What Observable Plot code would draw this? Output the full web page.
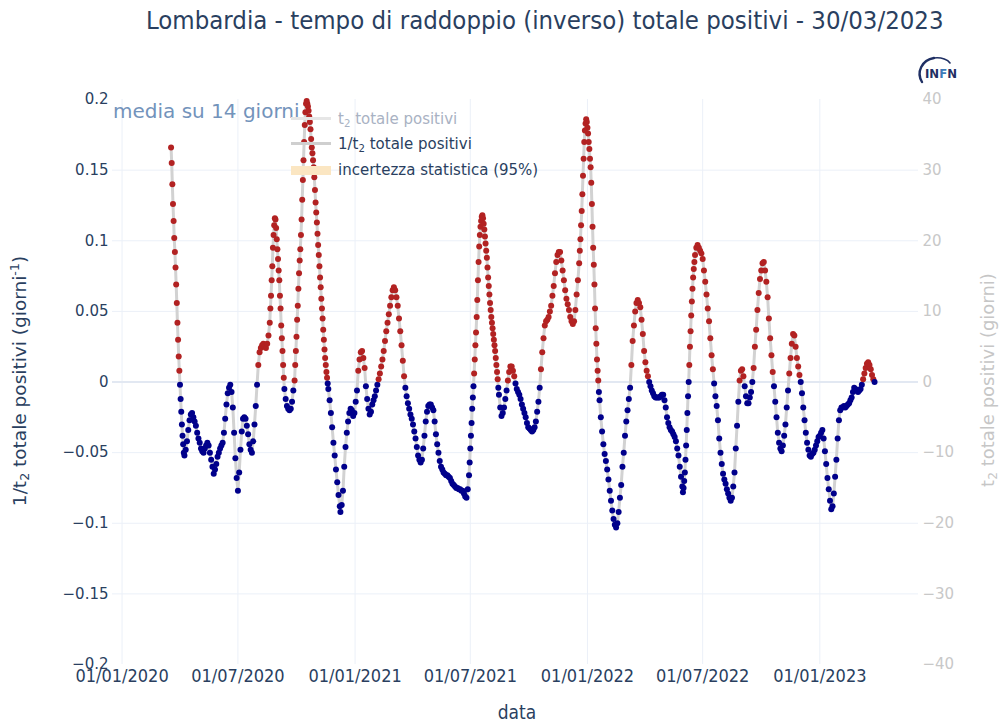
<!DOCTYPE html>
<html><head><meta charset="utf-8">
<script src="https://cdn.jsdelivr.net/npm/d3@7"></script>
<script src="https://cdn.jsdelivr.net/npm/@observablehq/plot@0.6"></script>
<style>
body{margin:0;background:#fff;}
#wrap{position:relative;width:1000px;height:726px;overflow:hidden;font-family:"DejaVu Sans",sans-serif;color:#2a3f5f;}
#chart{position:absolute;left:0;top:0;}
.ov{position:absolute;white-space:nowrap;}
.rot{transform:translate(-50%,-50%) rotate(-90deg);}
sub{font-size:68%;vertical-align:-0.25em;line-height:0;}
sup{font-size:68%;vertical-align:0.55em;line-height:0;}
.leg{font-size:15px;line-height:18px;}
</style></head><body>
<div id="wrap">
<div id="chart"></div>
<div class="ov" id="title" style="left:146px;top:5px;font-family:'DejaVu Sans Condensed','DejaVu Sans';font-stretch:condensed;font-size:25.5px;color:#2a3f5f;">Lombardia - tempo di raddoppio (inverso) totale positivi - 30/03/2023</div>
<div class="ov" style="left:113px;top:99px;font-size:20px;color:#7393bb;">media su 14 giorni</div>
<div class="ov" style="left:291px;top:117px;width:40px;height:3px;background:#e6e6e6;"></div>
<div class="ov leg" style="left:338px;top:110px;color:#a9b2c3;">t<sub>2</sub> totale positivi</div>
<div class="ov" style="left:291px;top:142px;width:40px;height:3px;background:#cfcfcf;"></div>
<div class="ov leg" style="left:338px;top:135px;color:#2a3f5f;">1/t<sub>2</sub> totale positivi</div>
<div class="ov" style="left:291px;top:166px;width:40px;height:9px;background:#fbe6c2;"></div>
<div class="ov leg" style="left:338px;top:161px;color:#2a3f5f;">incertezza statistica (95%)</div>
<div class="ov rot" style="left:19px;top:381px;font-size:18.5px;color:#2a3f5f;">1/t<sub>2</sub> totale positivi (giorni<sup>-1</sup>)</div>
<div class="ov rot" style="left:987px;top:380px;font-size:18px;color:#c6c6c6;">t<sub>2</sub> totale positivi (giorni)</div>
<div class="ov" style="left:517px;top:712px;transform:translate(-50%,-50%);font-family:'DejaVu Sans Condensed','DejaVu Sans';font-stretch:condensed;font-size:19px;color:#2a3f5f;">data</div>
<svg class="ov" style="left:914px;top:54px;" width="60" height="32" viewBox="0 0 60 32">
  <path d="M20 4 C 8 6, 2 18, 8 28" fill="none" stroke="#1f2f63" stroke-width="2.4" stroke-linecap="round"/>
  <path d="M20 4 C 28 3, 34 6, 36 9" fill="none" stroke="#1f2f63" stroke-width="1.6" stroke-linecap="round"/>
  <text x="11" y="24" font-family="DejaVu Sans Condensed, DejaVu Sans" font-size="13" font-weight="bold" fill="#1f2f63">I<tspan fill="#1f2f63">N</tspan><tspan fill="#3d7ab8">F</tspan><tspan fill="#1f2f63">N</tspan></text>
</svg>
</div>
<script>
// giorni dal 01/01/2020 e valori (1/t2, giorni^-1)
const dataInizio = "2020-01-01";
const giorni = [
  77,78,79,80,81,82,83,84,85,86,87,88,89,90,91,92,93,94,95,96,97,98,
  100,102,104,106,108,110,112,114,116,118,120,122,124,126,128,130,132,134,136,138,
  140,142,144,146,148,150,152,154,156,158,160,162,164,166,168,170,172,174,176,178,
  180,182,184,186,188,190,192,194,196,198,200,202,204,206,208,210,212,214,216,218,
  220,222,224,226,228,230,
  232,233,234,235,236,237,238,239,240,241,242,243,244,245,246,247,248,249,250,251,252,253,254,255,
  257,259,261,263,265,267,269,
  271,272,273,274,275,276,277,278,279,280,281,282,283,284,285,286,287,288,289,290,
  291,292,293,294,295,296,297,298,299,300,301,302,303,304,305,306,307,308,309,310,
  311,312,313,314,315,316,317,318,319,320,321,322,323,324,
  326,328,330,332,334,336,338,340,342,343,
  345,347,349,351,353,355,357,359,361,363,365,367,369,371,373,375,377,379,381,383,
  385,387,389,391,393,395,397,399,401,403,405,407,409,411,413,415,417,419,421,423,
  425,427,429,431,433,435,437,439,441,443,445,447,449,451,453,455,457,459,461,463,
  465,467,469,471,473,475,477,479,481,483,485,487,489,491,493,495,497,499,501,503,
  505,507,509,511,513,515,517,519,521,523,525,527,529,531,533,535,537,539,541,543,
  545,546,547,548,549,550,551,552,553,554,555,556,557,558,559,560,561,562,563,564,
  565,566,567,568,569,570,571,572,573,574,575,576,577,578,579,580,581,582,583,584,
  585,586,587,588,589,590,591,592,
  594,596,598,600,602,604,606,608,610,612,614,616,618,620,622,624,626,628,630,632,
  634,636,638,640,642,644,646,648,650,652,654,656,658,660,662,664,666,668,670,672,
  674,676,678,680,682,684,686,688,690,692,694,696,698,700,702,704,706,708,710,712,
  714,716,
  718,719,720,721,722,723,724,725,726,727,728,729,730,731,732,733,734,735,736,737,
  738,739,740,741,742,743,744,745,746,747,748,749,750,
  752,754,756,758,760,762,764,766,768,770,772,774,776,778,780,782,784,786,788,790,
  792,794,796,798,800,802,804,806,808,810,812,814,816,818,820,822,824,826,828,830,
  832,834,836,838,840,842,844,846,848,850,852,854,856,858,860,862,864,866,868,870,
  872,874,876,878,880,
  881,882,883,884,885,886,887,888,889,890,891,892,893,894,895,896,897,898,899,900,
  902,904,906,908,910,912,914,916,918,920,922,924,926,928,930,932,934,936,938,940,
  942,944,946,948,950,952,954,956,958,960,962,964,966,968,970,972,974,976,978,980,
  982,984,986,988,990,992,994,996,998,1000,1002,1004,1006,1008,1010,1012,1014,1016,1018,1020,
  1022,1024,1026,1028,1030,1032,1034,1036,1038,1040,1042,1044,1046,1048,1050,1052,1054,1056,1058,1060,
  1062,1064,1066,1068,1070,1072,1074,1076,1078,1080,1082,1084,1086,1088,1090,1092,1094,1096,1098,1100,
  1102,1104,1106,1108,1110,1112,1114,1116,1118,1120,1122,1124,1126,1128,1130,1132,1134,1136,1138,1140,
  1142,1144,1146,1148,1150,1152,1154,1156,1158,1160,1162,1164,1166,1168,1170,1172,1174,1176,1178,1180,
  1182
];
const invT2 = [
  0.166,0.155,0.140,0.126,0.114,0.102,0.092,0.081,0.069,0.056,0.042,0.030,0.018,0.008,-0.002,-0.012,-0.021,-0.030,-0.038,-0.044,-0.050,-0.052,
  -0.048,-0.042,-0.034,-0.027,-0.023,-0.022,-0.025,-0.028,-0.031,-0.036,-0.040,-0.043,-0.047,-0.049,-0.050,-0.047,-0.045,-0.043,-0.045,-0.050,
  -0.055,-0.060,-0.065,-0.062,-0.058,-0.053,-0.050,-0.047,-0.045,-0.043,-0.036,-0.026,-0.016,-0.008,-0.004,-0.002,-0.007,-0.018,-0.036,-0.054,
  -0.068,-0.077,-0.064,-0.048,-0.035,-0.026,-0.025,-0.026,-0.031,-0.037,-0.044,-0.048,-0.050,-0.042,-0.030,-0.017,-0.002,0.012,0.021,0.024,
  0.026,0.027,0.025,0.024,0.027,0.033,
  0.042,0.052,0.061,0.072,0.082,0.095,0.104,0.111,0.116,0.115,0.109,0.101,0.094,0.087,0.079,0.072,0.061,0.052,0.040,0.031,0.022,0.012,0.003,-0.005,
  -0.012,-0.017,-0.019,-0.020,-0.019,-0.014,-0.006,
  0.001,0.012,0.022,0.032,0.044,0.054,0.066,0.077,0.086,0.094,0.104,0.115,0.129,0.143,0.157,0.170,0.182,0.191,0.197,0.199,
  0.197,0.195,0.192,0.188,0.184,0.179,0.172,0.166,0.162,0.157,0.152,0.145,0.136,0.127,0.120,0.113,0.105,0.097,0.090,0.082,
  0.074,0.067,0.059,0.052,0.045,0.037,0.030,0.023,0.017,0.012,0.007,0.003,-0.001,-0.005,
  -0.013,-0.022,-0.032,-0.043,-0.052,-0.062,-0.071,-0.080,-0.088,-0.092,
  -0.087,-0.077,-0.060,-0.046,-0.036,-0.028,-0.022,-0.019,-0.020,-0.024,-0.022,-0.014,-0.006,0.008,0.016,0.021,0.022,0.017,0.010,-0.003,
  -0.012,-0.019,-0.023,-0.021,-0.016,-0.013,-0.010,-0.006,-0.002,0.002,0.006,0.011,0.016,0.022,0.029,0.036,0.042,0.048,0.054,0.060,
  0.065,0.067,0.065,0.060,0.054,0.045,0.036,0.026,0.015,0.004,-0.004,-0.010,-0.015,-0.019,-0.023,-0.026,-0.030,-0.035,-0.040,-0.046,
  -0.052,-0.055,-0.057,-0.055,-0.047,-0.038,-0.028,-0.021,-0.017,-0.016,-0.016,-0.018,-0.020,-0.028,-0.037,-0.044,-0.050,-0.056,-0.060,-0.062,
  -0.064,-0.065,-0.066,-0.066,-0.067,-0.068,-0.070,-0.072,-0.073,-0.074,-0.075,-0.075,-0.076,-0.076,-0.077,-0.077,-0.079,-0.081,-0.082,-0.076,
  -0.066,-0.057,-0.047,-0.038,-0.029,-0.019,-0.011,-0.003,0.006,0.016,0.026,0.035,0.046,0.058,0.072,0.085,0.096,0.104,0.110,0.114,
  0.117,0.118,0.116,0.112,0.108,0.103,0.098,0.093,0.088,0.081,0.074,0.068,0.062,0.056,0.051,0.046,0.042,0.038,0.034,0.030,
  0.026,0.022,0.017,0.012,0.007,0.002,-0.004,-0.009,
  -0.018,-0.024,-0.022,-0.018,-0.012,-0.006,0.001,0.007,0.011,0.011,0.008,0.004,-0.001,-0.005,-0.007,-0.009,-0.012,-0.016,-0.019,-0.022,
  -0.025,-0.029,-0.032,-0.033,-0.034,-0.035,-0.034,-0.032,-0.028,-0.021,-0.014,-0.004,0.009,0.021,0.031,0.040,0.043,0.044,0.046,0.050,
  0.054,0.061,0.068,0.077,0.085,0.090,0.092,0.092,0.086,0.079,0.072,0.065,0.059,0.055,0.051,0.046,0.043,0.041,0.043,0.051,
  0.062,0.072,
  0.084,0.093,0.101,0.111,0.121,0.133,0.146,0.158,0.170,0.178,0.183,0.186,0.184,0.180,0.176,0.170,0.165,0.158,0.152,0.141,
  0.126,0.110,0.095,0.083,0.069,0.052,0.038,0.027,0.016,0.008,0.001,-0.007,-0.013,
  -0.025,-0.035,-0.044,-0.051,-0.056,-0.062,-0.069,-0.077,-0.084,-0.091,-0.097,-0.101,-0.103,-0.100,-0.092,-0.082,-0.073,-0.060,-0.050,-0.038,
  -0.028,-0.020,-0.012,-0.004,0.012,0.029,0.040,0.050,0.056,0.058,0.056,0.053,0.044,0.034,0.022,0.014,0.008,0.004,0.000,-0.003,
  -0.006,-0.008,-0.010,-0.011,-0.011,-0.011,-0.011,-0.010,-0.009,-0.009,-0.013,-0.018,-0.025,-0.029,-0.032,-0.034,-0.035,-0.037,-0.039,-0.042,
  -0.047,-0.052,-0.060,-0.067,-0.074,
  -0.078,-0.075,-0.070,-0.064,-0.055,-0.045,-0.034,-0.022,-0.010,0.000,0.012,0.025,0.036,0.047,0.057,0.066,0.074,0.080,0.085,0.090,
  0.095,0.097,0.095,0.093,0.091,0.087,0.079,0.071,0.062,0.052,0.043,0.031,0.019,0.009,-0.001,-0.010,-0.017,-0.027,-0.040,-0.050,
  -0.058,-0.065,-0.069,-0.072,-0.076,-0.079,-0.082,-0.084,-0.082,-0.074,-0.064,-0.047,-0.031,-0.014,0.001,0.008,0.009,0.004,-0.003,-0.010,
  -0.015,-0.015,-0.011,-0.007,0.000,0.010,0.025,0.037,0.051,0.063,0.073,0.079,0.084,0.085,0.079,0.071,0.060,0.045,0.031,0.019,
  0.007,-0.003,-0.014,-0.025,-0.036,-0.043,-0.047,-0.049,-0.045,-0.038,-0.030,-0.018,-0.006,0.006,0.017,0.027,0.034,0.033,0.025,0.017,
  0.011,0.005,0.000,-0.008,-0.018,-0.027,-0.036,-0.043,-0.048,-0.052,-0.053,-0.051,-0.050,-0.048,-0.045,-0.042,-0.039,-0.038,-0.036,-0.034,
  -0.040,-0.049,-0.058,-0.068,-0.076,-0.084,-0.090,-0.088,-0.079,-0.067,-0.055,-0.040,-0.027,-0.020,-0.018,-0.018,-0.017,-0.018,-0.017,-0.016,
  -0.015,-0.013,-0.011,-0.007,-0.004,-0.005,-0.006,-0.007,-0.006,-0.005,-0.002,0.002,0.006,0.010,0.013,0.014,0.012,0.009,0.005,0.002,
  0.000
];
const semiIncertezza = 0.002;
const xDominio = ["2019-12-17", "2023-06-05"];
const tickDate = ["2020-01-01","2020-07-01","2021-01-01","2021-07-01","2022-01-01","2022-07-01","2023-01-01"];
const tickEtichette = ["01/01/2020","01/07/2020","01/01/2021","01/07/2021","01/01/2022","01/07/2022","01/01/2023"];
const yDominio = [-0.2, 0.2];
const yTicks = [-0.2,-0.15,-0.1,-0.05,0,0.05,0.1,0.15,0.2];
const yGriglia = [-0.15,-0.1,-0.05,0.05,0.1,0.15];
const t2Dominio = [-40, 40];
const t2Ticks = [-40,-30,-20,-10,0,10,20,30,40];

const base = new Date(dataInizio + "T00:00:00Z");
const punti = giorni.map((g, i) => ({date: d3.utcDay.offset(base, g), v: invT2[i]}));
const ticksX = tickDate.map((s, i) => ({date: new Date(s + "T00:00:00Z"), label: tickEtichette[i]}));
const fmt = d => d === 0 ? "0" : (d < 0 ? "\u2212" : "") + String(Math.abs(d));
const t2ToY = t => yDominio[0] + (t - t2Dominio[0]) * (yDominio[1] - yDominio[0]) / (t2Dominio[1] - t2Dominio[0]);

const chart = Plot.plot({
  width: 1000, height: 726,
  marginLeft: 112, marginRight: 82, marginTop: 99, marginBottom: 62,
  style: {background: "transparent", fontFamily: "DejaVu Sans"},
  x: {type: "utc", domain: xDominio.map(s => new Date(s + "T00:00:00Z")), axis: null},
  y: {domain: yDominio, axis: null},
  color: {type: "identity"},
  marks: [
    Plot.gridX(ticksX.map(d => d.date), {stroke: "#ebf0f8", strokeOpacity: 1}),
    Plot.gridY(yGriglia, {stroke: "#ebf0f8", strokeOpacity: 1}),
    Plot.ruleY([0], {stroke: "#e2e8f2", strokeWidth: 2}),
    Plot.areaY(punti, {x: "date", y1: d => d.v - semiIncertezza, y2: d => d.v + semiIncertezza, fill: "#fcd9a0", fillOpacity: 0.7}),
    Plot.line(punti, {x: "date", y: "v", stroke: "#d2d2d2", strokeWidth: 3}),
    Plot.dot(punti, {x: "date", y: "v", r: 3, fill: d => d.v > 0 ? "#b22222" : "#00008b", stroke: "none"}),
    Plot.text(yTicks, {y: d => d, text: fmt, frameAnchor: "left", dx: -4, textAnchor: "end", fontSize: 15, fill: "#2a3f5f"}),
    Plot.text(t2Ticks, {y: t2ToY, text: fmt, frameAnchor: "right", dx: 4, textAnchor: "start", fontSize: 15, fill: "#c8c8c8"}),
    Plot.text(ticksX, {x: "date", text: "label", frameAnchor: "bottom", dy: 17, fontSize: 18, fill: "#2a3f5f", fontFamily: "DejaVu Sans Condensed, DejaVu Sans", fontStretch: "condensed"})
  ]
});
document.getElementById("chart").appendChild(chart);
</script>
</body></html>
